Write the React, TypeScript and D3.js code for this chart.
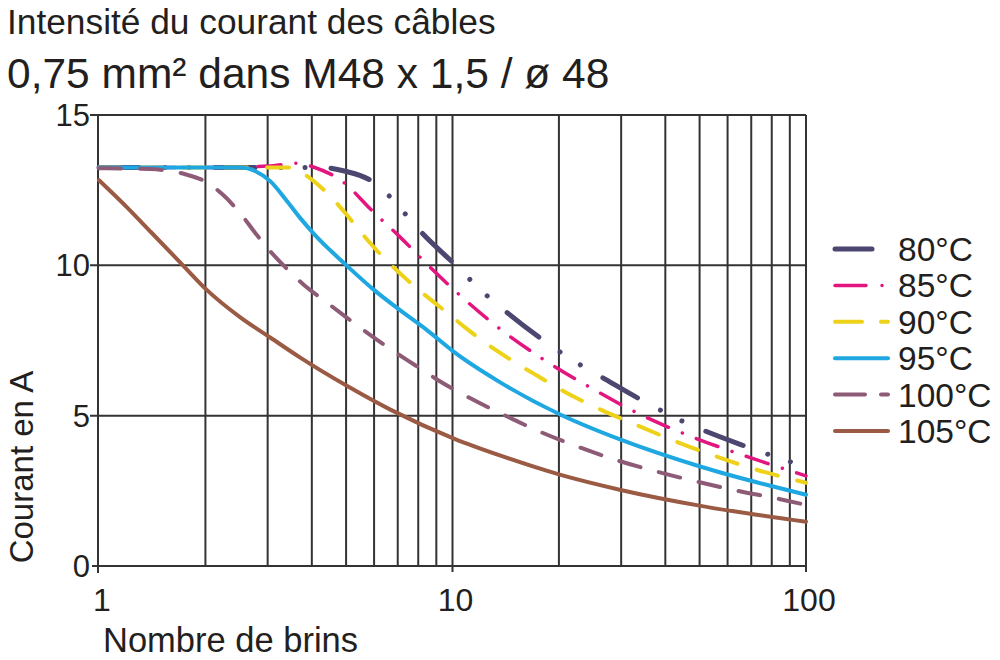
import React from "react";
import * as d3 from "d3";

// ---- Data ----
const xTickLabels = [1, 10, 100];
const yTickLabels = [0, 5, 10, 15];
const xGridValues = [2, 3, 4, 5, 6, 7, 8, 9, 10, 20, 30, 40, 50, 60, 70, 80, 90];
const yGridValues = [5, 10];

const seriesNames = ["80°C", "85°C", "90°C", "95°C", "100°C", "105°C"];

const s80: [number, number][] = [
  [1, 13.25], [2, 13.25], [3, 13.25], [4.31, 13.25], [4.98, 13.13], [5.97, 12.77],
  [6.67, 12.27], [7.36, 11.7], [8.12, 11.13], [10.07, 10.07], [12.57, 8.97], [14.13, 8.47],
  [17.76, 7.57], [22.9, 6.7], [26.26, 6.3], [33.65, 5.57], [44.5, 4.83], [66.7, 4.0],
  [90.1, 3.47], [100, 3.3],
];
const s85: [number, number][] = [
  [1, 13.25], [2, 13.25], [3, 13.3], [3.66, 13.4], [4.04, 13.27], [4.91, 12.77],
  [5.86, 11.87], [7.12, 10.93], [8.66, 9.93], [10.13, 9.17], [13.24, 8.0], [17.76, 6.93],
  [24.6, 5.93], [34.1, 5.03], [48.2, 4.27], [68.5, 3.63], [100, 3.0],
];
const s90: [number, number][] = [
  [1, 13.25], [2, 13.25], [3, 13.25], [3.5, 13.25], [3.88, 12.97], [4.42, 12.4], [4.98, 11.73],
  [5.6, 11.0], [6.33, 10.3], [7.31, 9.6], [8.38, 9.0], [9.55, 8.47], [11.03, 7.87],
  [12.81, 7.3], [14.89, 6.8], [17.52, 6.3], [20.49, 5.83], [26.26, 5.2], [33.43, 4.67],
  [42.27, 4.17], [54.9, 3.67], [71.2, 3.23], [100, 2.77],
];
const s95: [number, number][] = [
  [1, 13.25], [2, 13.25], [2.51, 13.25], [2.77, 13.13], [3.05, 12.8], [3.37, 12.2],
  [3.71, 11.57], [4.09, 11.0], [4.51, 10.5], [5.01, 10.0], [5.97, 9.2], [7.12, 8.5],
  [8.5, 7.83], [10.07, 7.13], [13.68, 6.1], [20.23, 5.03], [29.9, 4.2], [50.4, 3.3], [100, 2.37],
];
const s100: [number, number][] = [
  [1, 13.23], [1.395, 13.2], [1.752, 13.03], [2.01, 12.77], [2.23, 12.37], [2.51, 11.73],
  [2.77, 11.07], [3.05, 10.47], [3.37, 9.93], [3.78, 9.37], [4.37, 8.8], [5.01, 8.27],
  [5.78, 7.73], [6.76, 7.17], [7.86, 6.67], [9.13, 6.17], [10.74, 5.7], [14.89, 4.87],
  [17.41, 4.5], [22.6, 3.97], [28.95, 3.53], [38.1, 3.13], [49.4, 2.8], [64.2, 2.5],
  [83.9, 2.23], [100, 2.03],
];
const s105: [number, number][] = [
  [1, 12.83], [1.2, 11.93], [1.404, 11.1], [1.696, 10.1], [2.01, 9.2], [2.51, 8.27],
  [3.05, 7.6], [3.71, 6.93], [5.01, 6.0], [6.67, 5.2], [10.13, 4.23], [13.68, 3.67],
  [20.23, 3.03], [29.9, 2.53], [50.4, 2.0], [100, 1.47],
];

const seriesValues = [s80, s85, s90, s95, s100, s105];

// ---- Styles ----
const styles = [
  { color: "#4b4770", width: 5, dash: "40 26 0.01 24 0.01 26", legendDash: "37 17 0.01 100" },
  { color: "#e3157f", width: 3.5, dash: "23 15 0.01 15", legendDash: "31 16 0.01 100" },
  { color: "#eed21a", width: 4, dash: "22 20", legendDash: "27 19 30" },
  { color: "#1ea7e1", width: 4, dash: "", legendDash: "" },
  { color: "#8e5b77", width: 4, dash: "22 19", legendDash: "30 16 30" },
  { color: "#9b5a44", width: 4, dash: "", legendDash: "" },
];

const FONT = "'Liberation Sans', Arial, Helvetica, sans-serif";
const INK = "#231f20";

export default function App() {
  const x = d3.scaleLog().domain([1, 100]).range([99, 806]);
  const y = d3.scaleLinear().domain([0, 15]).range([566, 115]);
  const line = d3
    .line<[number, number]>()
    .x((d) => x(d[0]))
    .y((d) => y(d[1]))
    .curve(d3.curveMonotoneX);

  const gridColor = "#333";
  const x0 = x(1);
  const x1 = x(100);
  const yTop = y(15);
  const yBot = y(0);

  return (
    <div style={{ position: "absolute", left: 0, top: 0 }}>
      <svg width={1000} height={660} style={{ display: "block", background: "#fff" }} fontFamily={FONT}>
        {/* Title */}
        <text x={7} y={34} fontSize={35.3} fill={INK}>Intensité du courant des câbles</text>
        <text x={7} y={88} fontSize={42.5} fill={INK}>0,75 mm² dans M48 x 1,5 / ø 48</text>

        {/* Grid */}
        {xGridValues.map((v) => (
          <line key={"gx" + v} x1={x(v)} x2={x(v)} y1={yTop} y2={v === 10 ? yBot + 6 : yBot} stroke={gridColor} strokeWidth={2} />
        ))}
        {yGridValues.map((v) => (
          <line key={"gy" + v} x1={x0 - 9} x2={x1} y1={y(v)} y2={y(v)} stroke={gridColor} strokeWidth={2} />
        ))}
        {/* frame */}
        <line x1={x0 - 9} x2={x1} y1={yTop} y2={yTop} stroke={gridColor} strokeWidth={2} />
        <line x1={x1} x2={x1} y1={yTop} y2={yBot + 6} stroke={gridColor} strokeWidth={2} />
        <line x1={x0 - 7} x2={x1} y1={yBot} y2={yBot} stroke={gridColor} strokeWidth={2} />
        <line x1={x0 - 1} x2={x0 - 1} y1={yTop} y2={yBot + 7} stroke={gridColor} strokeWidth={2} />

        {/* Curves */}
        {seriesValues.map((s, i) => (
          <path
            key={"s" + i}
            d={line(s) || ""}
            fill="none"
            stroke={styles[i].color}
            strokeWidth={styles[i].width}
            strokeDasharray={styles[i].dash || undefined}
            strokeLinecap="round"
          />
        ))}

        {/* Y tick labels */}
        {yTickLabels.map((v) => (
          <text key={"yl" + v} x={90} y={y(v)} dy="0.36em" textAnchor="end" fontSize={31} fill={INK}>
            {v}
          </text>
        ))}
        {/* X tick labels */}
        {xTickLabels.map((v) => (
          <text key={"xl" + v} x={x(v) + 3} y={611} textAnchor="middle" fontSize={32} fill={INK}>
            {v}
          </text>
        ))}

        {/* Axis titles */}
        <text x={103} y={652} fontSize={34.5} fill={INK}>Nombre de brins</text>
        <text transform={`translate(33, 467) rotate(-90)`} textAnchor="middle" fontSize={33} fill={INK}>
          Courant en A
        </text>

        {/* Legend */}
        {seriesNames.map((name, i) => {
          const cy = 249 + i * 36.4;
          return (
            <g key={"lg" + i}>
              <line
                x1={835}
                x2={888}
                y1={cy}
                y2={cy}
                stroke={styles[i].color}
                strokeWidth={styles[i].width}
                strokeDasharray={styles[i].legendDash || undefined}
                strokeLinecap="round"
              />
              <text x={898} y={cy} dy="0.36em" fontSize={33.5} fill={INK}>
                {name}
              </text>
            </g>
          );
        })}
      </svg>
    </div>
  );
}
